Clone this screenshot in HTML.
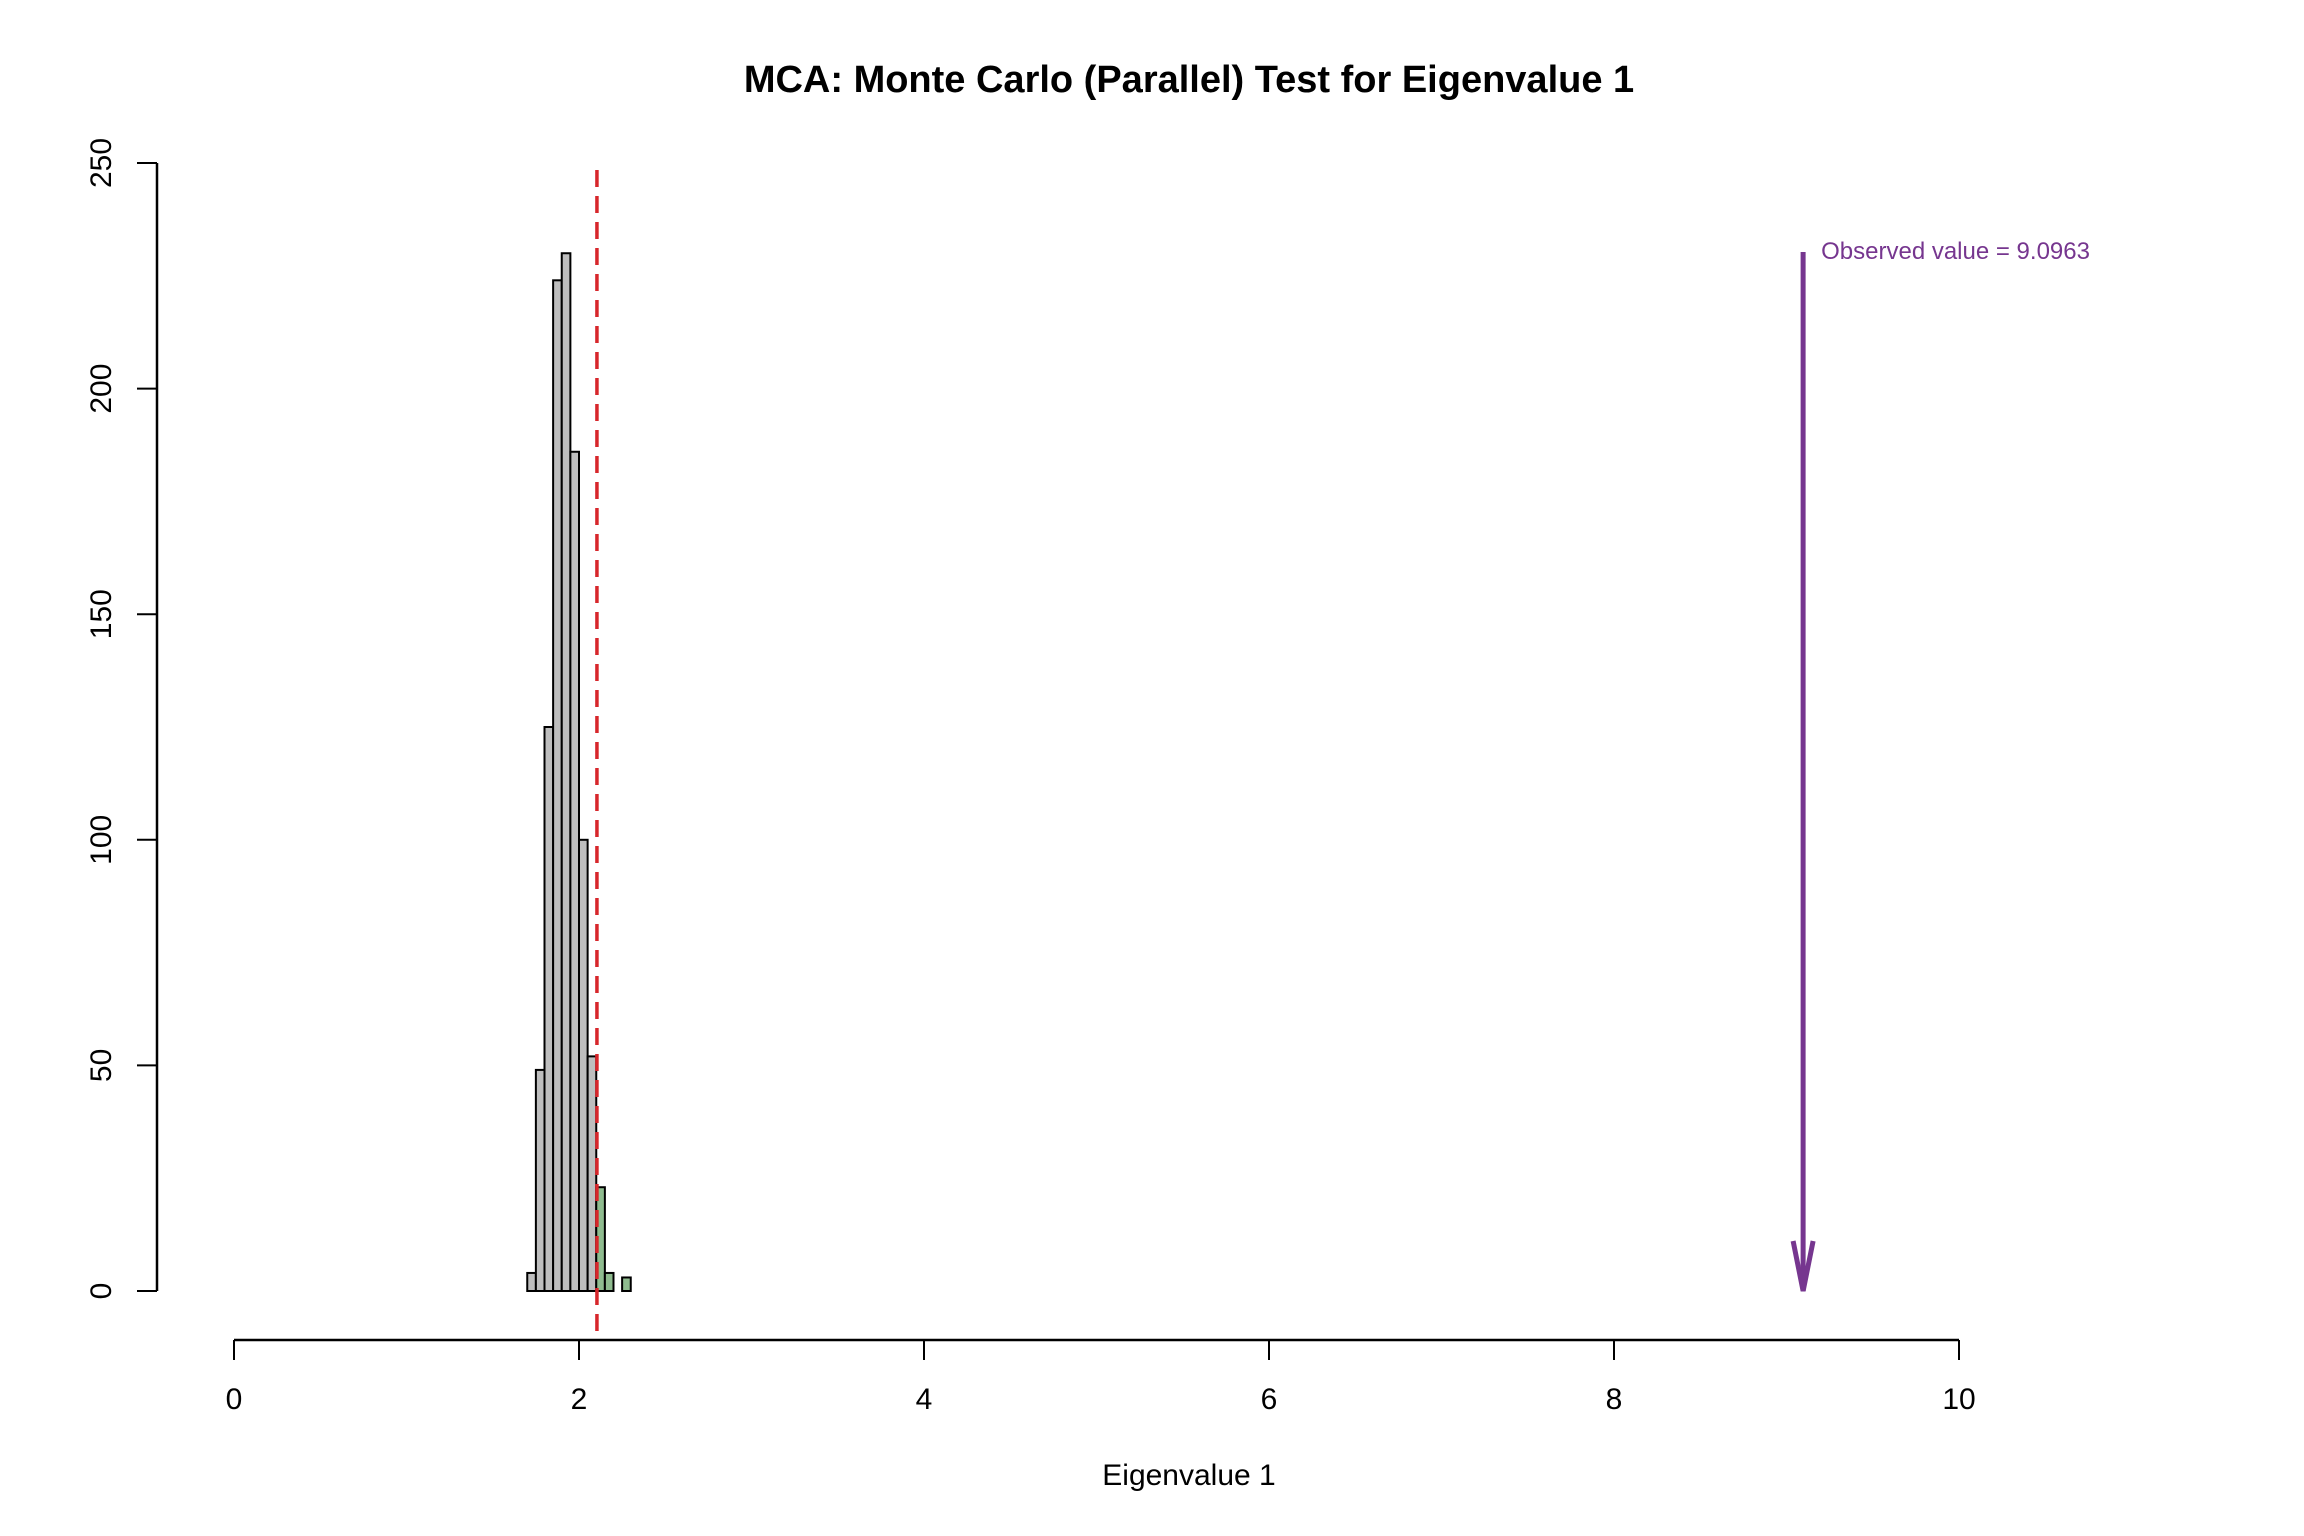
<!DOCTYPE html>
<html><head><meta charset="utf-8"><style>
html,body{margin:0;padding:0;background:#fff;}
svg{display:block;font-family:"Liberation Sans",Arial,sans-serif;}
</style></head><body>
<svg id="chart" width="2304" height="1536" viewBox="0 0 2304 1536" xmlns="http://www.w3.org/2000/svg">
<text x="1189" y="92" text-anchor="middle" font-size="38" font-weight="bold">MCA: Monte Carlo (Parallel) Test for Eigenvalue 1</text>
<text x="1189" y="1485" text-anchor="middle" font-size="30">Eigenvalue 1</text>
<g id="bars"></g>
<g id="axes"></g>
<g id="overlay"></g>
</svg>
<script>
const binStarts = [1.70,1.75,1.80,1.85,1.90,1.95,2.00,2.05,2.10,2.15,2.20,2.25];
const counts = [4,49,125,224,230,186,100,52,23,4,0,3];
const binWidth = 0.05;
const xTicks = [0,2,4,6,8,10];
const yTicks = [0,50,100,150,200,250];
const criticalValue = 2.104;
const observedValue = 9.0963;

const NS='http://www.w3.org/2000/svg';
const X0=234, XU=172.5, Y0=1291, YU=4.512;
function xs(v){return X0+v*XU;}
function ys(v){return Y0-v*YU;}
function mk(tag,attrs,parent){const e=document.createElementNS(NS,tag);for(const k in attrs)e.setAttribute(k,attrs[k]);parent.appendChild(e);return e;}
const bars=document.getElementById('bars'),axes=document.getElementById('axes'),ov=document.getElementById('overlay');

binStarts.forEach((b,i)=>{
  if(counts[i]<=0)return;
  const x1=xs(b),x2=xs(b+binWidth);
  const r=mk('rect',{x:x1,y:ys(counts[i]),width:x2-x1,height:ys(0)-ys(counts[i]),fill:b>=criticalValue-0.01?'#8FBC8F':'#BEBEBE',stroke:'#000','stroke-width':2},bars);
  
  
});

const xl=mk('line',{x1:xs(xTicks[0]),x2:xs(xTicks[xTicks.length-1]),y1:1340,y2:1340,stroke:'#000','stroke-width':2.5},axes);


xTicks.forEach(t=>{
  const l=mk('line',{x1:xs(t),x2:xs(t),y1:1340,y2:1360,stroke:'#000','stroke-width':2},axes);
  
  
  const tx=mk('text',{x:xs(t),y:1409,'text-anchor':'middle','font-size':30},axes);
  tx.textContent=t;
  
  
});
const yl=mk('line',{x1:157,x2:157,y1:ys(yTicks[0]),y2:ys(yTicks[yTicks.length-1]),stroke:'#000','stroke-width':2.5},axes);


yTicks.forEach(t=>{
  const l=mk('line',{x1:137,x2:157,y1:ys(t),y2:ys(t),stroke:'#000','stroke-width':2},axes);
  
  
  const tx=mk('text',{x:0,y:0,'text-anchor':'middle','font-size':30,transform:'translate(111,'+ys(t)+') rotate(-90)'},axes);
  tx.textContent=t;
  
  
});

const cl=mk('line',{x1:xs(criticalValue),x2:xs(criticalValue),y1:170,y2:1340,stroke:'#D7262B','stroke-width':3.5,'stroke-dasharray':'17 9'},ov);


const ax=xs(observedValue);
const al=mk('line',{x1:ax,x2:ax,y1:252,y2:ys(0),stroke:'#76368F','stroke-width':5},ov);


const ah=mk('path',{d:'M'+(ax-10)+','+(ys(0)-50)+' L'+ax+','+ys(0)+' L'+(ax+10)+','+(ys(0)-50),fill:'none',stroke:'#76368F','stroke-width':5},ov);


const at=mk('text',{x:ax+18,y:259,'font-size':24,fill:'#76368F'},ov);
at.textContent='Observed value = '+observedValue.toFixed(4);


</script>
</body></html>
